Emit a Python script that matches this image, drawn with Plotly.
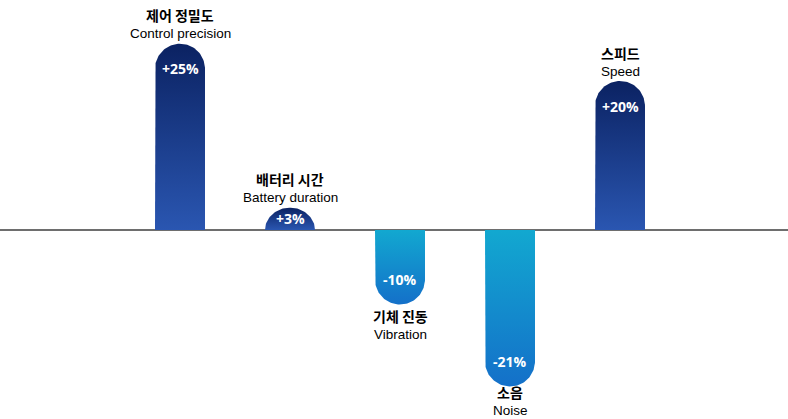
import numpy as np
import plotly.graph_objects as go

# ---- data ----
categories_ko = ["제어 정밀도", "배터리 시간", "기체 진동", "소음", "스피드"]
categories_en = ["Control precision", "Battery duration", "Vibration", "Noise", "Speed"]
values = [25, 3, -10, -21, 20]
value_labels = ["+25%", "+3%", "-10%", "-21%", "+20%"]

# ---- layout constants (pixels) ----
W, H = 788, 419
PX_PER_UNIT = 7.45     # vertical scale
ZERO_PX = 230          # baseline position from top
SLOT_PX = 110          # distance between bar centres
FIRST_PX = 180         # centre of first bar
BAR_PX = 50            # bar width
CAP_PX = 25            # radius of rounded end
KO_SIZE, EN_SIZE = 14, 13.5
LINE_GAP = 18.5        # distance between Korean and English label centres
EN_GAP = 10            # distance from bar end to English label centre (positive bars)
KO_GAP = 11            # distance from bar end to Korean label centre (negative bars)

x0 = -FIRST_PX / SLOT_PX
x1 = x0 + W / SLOT_PX
y_top = ZERO_PX / PX_PER_UNIT
y_bot = -(H - ZERO_PX) / PX_PER_UNIT

rx = BAR_PX / 2 / SLOT_PX          # half width in x data units
ry_full = CAP_PX / PX_PER_UNIT     # cap radius in y data units

POS_SCALE = [[0, "#2a56b1"], [1, "#0b2262"]]
NEG_SCALE = [[0, "#1470c9"], [1, "#12a8d0"]]

fig = go.Figure()
annotations = []

for i, v in enumerate(values):
    s = 1 if v >= 0 else -1
    L = abs(v)
    ry = min(ry_full, L)
    straight = L - ry
    t = np.linspace(np.pi, 0, 60)
    xs = [i - rx, i - rx] + list(i + rx * np.cos(t)) + [i + rx, i + rx, i - rx]
    ys = [0, s * straight] + list(s * (straight + ry * np.sin(t))) + [s * straight, 0, 0]
    fig.add_trace(go.Scatter(
        x=xs, y=ys, mode="lines", fill="toself",
        line=dict(width=0, color="rgba(0,0,0,0)"),
        fillgradient=dict(type="vertical", colorscale=POS_SCALE if s > 0 else NEG_SCALE),
        hoverinfo="skip", showlegend=False,
    ))
    # value label inside the rounded end
    yc = s * max(L - ry_full, L / 2)
    annotations.append(dict(
        x=i, y=yc, text=f"<b>{value_labels[i]}</b>", showarrow=False,
        font=dict(family="Open Sans, Roboto, sans-serif", size=14, color="white"),
        xanchor="center", yanchor="middle", borderpad=0,
    ))
    # category labels: shifts in pixels from the bar end
    if s > 0:
        en_shift = EN_GAP
        ko_shift = EN_GAP + LINE_GAP
    else:
        end_px = ZERO_PX + L * PX_PER_UNIT
        en_center = min(end_px + KO_GAP + LINE_GAP, H - EN_SIZE * 0.6)
        ko_center = en_center - LINE_GAP
        en_shift = -(en_center - end_px)
        ko_shift = -(ko_center - end_px)
    annotations.append(dict(
        x=i, y=v, text=f"<b>{categories_ko[i]}</b>", showarrow=False,
        font=dict(family="Noto Sans CJK KR, sans-serif", size=KO_SIZE, color="black"),
        xanchor="center", yanchor="middle", yshift=ko_shift, borderpad=0,
    ))
    annotations.append(dict(
        x=i, y=v, text=categories_en[i], showarrow=False,
        font=dict(family="Liberation Sans, Arial, sans-serif", size=EN_SIZE, color="black"),
        xanchor="center", yanchor="middle", yshift=en_shift, borderpad=0,
    ))

fig.update_layout(
    width=W, height=H,
    margin=dict(l=0, r=0, t=0, b=0),
    paper_bgcolor="white", plot_bgcolor="white",
    xaxis=dict(range=[x0, x1], visible=False, fixedrange=True),
    yaxis=dict(range=[y_bot, y_top], showgrid=False, showticklabels=False,
               zeroline=True, zerolinecolor="#6e6e6e", zerolinewidth=1.5,
               fixedrange=True),
    annotations=annotations,
    showlegend=False,
)

fig.write_html(
    "out.html",
    config={"displayModeBar": False},
    post_script="document.body.style.margin='0';document.body.style.overflow='hidden';",
)
